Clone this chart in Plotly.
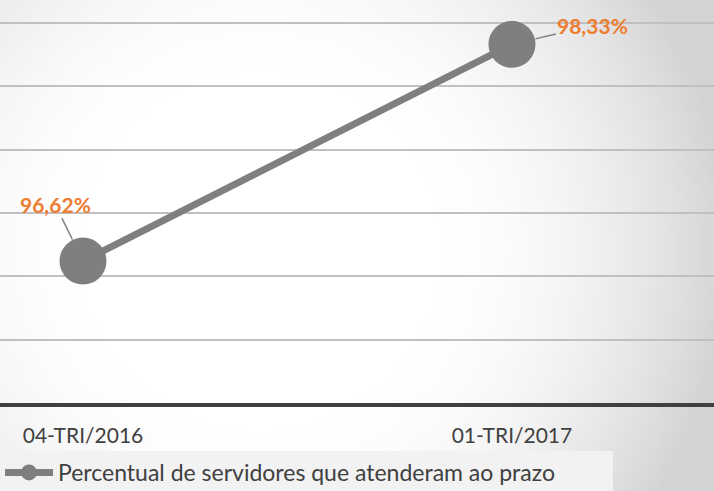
import base64
import struct
import zlib

import plotly.graph_objects as go

# data
quarters = ["04-TRI/2016", "01-TRI/2017"]
pct_values = [96.62, 98.33]
pct_labels = ["96,62%", "98,33%"]
series_name = "Percentual de servidores que atenderam ao prazo"

W, H = 714, 491
PLOT_BOTTOM = 88


def gradient_png(w, h, cx, cy, r0, r1, darkest):
    # small grayscale radial gradient, stretched by the browser
    rows = []
    for j in range(h):
        row = bytearray([0])
        for i in range(w):
            px = (i + 0.5) * W / w
            py = (j + 0.5) * H / h
            d = ((px - cx) ** 2 + (py - cy) ** 2) ** 0.5
            t = min(max((d - r0) / (r1 - r0), 0.0), 1.0)
            row.append(int(round(255 - (255 - darkest) * t * t)))
        rows.append(bytes(row))
    raw = b"".join(rows)

    def chunk(tag, data):
        c = struct.pack(">I", len(data)) + tag + data
        return c + struct.pack(">I", zlib.crc32(tag + data) & 0xFFFFFFFF)

    png = b"\x89PNG\r\n\x1a\n"
    png += chunk(b"IHDR", struct.pack(">IIBBBBB", w, h, 8, 0, 0, 0, 0))
    png += chunk(b"IDAT", zlib.compress(raw, 9))
    png += chunk(b"IEND", b"")
    return "data:image/png;base64," + base64.b64encode(png).decode()


bg = gradient_png(143, 98, 260, 250, 150, 470, 211)

fig = go.Figure()
fig.add_trace(
    go.Scatter(
        x=quarters,
        y=pct_values,
        mode="lines+markers",
        name=series_name,
        line=dict(color="#7f7f7f", width=7),
        marker=dict(color="#7f7f7f", size=47),
        hoverinfo="skip",
    )
)

# data labels with leader lines
offsets = [(-28, -57), (81, -19)]
for q, v, lab, (ax, ay) in zip(quarters, pct_values, pct_labels, offsets):
    fig.add_annotation(
        x=q,
        y=v,
        text="<b>" + lab + "</b>",
        showarrow=True,
        arrowhead=0,
        arrowwidth=1.5,
        arrowcolor="#7f7f7f",
        standoff=24,
        ax=ax,
        ay=ay,
        font=dict(family="Lato, Open Sans, sans-serif", size=21, color="#ed7d31"),
    )

fig.add_layout_image(
    source=bg,
    xref="paper",
    yref="paper",
    x=0,
    y=1,
    sizex=1,
    sizey=H / (H - PLOT_BOTTOM),
    sizing="stretch",
    xanchor="left",
    yanchor="top",
    layer="below",
)

fig.update_layout(
    width=W,
    height=H,
    margin=dict(l=0, r=0, t=0, b=PLOT_BOTTOM, autoexpand=False),
    paper_bgcolor="#eeeeee",
    plot_bgcolor="rgba(0,0,0,0)",
    font=dict(family="Lato, Open Sans, sans-serif", size=21, color="#404040"),
    showlegend=True,
    legend=dict(
        orientation="h",
        x=0,
        y=-(451 - (H - PLOT_BOTTOM)) / (H - PLOT_BOTTOM),
        xanchor="left",
        yanchor="top",
        bgcolor="#f2f2f2",
        itemwidth=48,
        entrywidth=550,
        entrywidthmode="pixels",
        font=dict(size=23, color="#404040"),
    ),
    xaxis=dict(
        type="category",
        range=[-0.1935, 1.471],
        showgrid=False,
        showline=True,
        linecolor="#404040",
        linewidth=4,
        ticks="",
        ticklabelstandoff=11,
        tickfont=dict(size=21, color="#404040"),
    ),
    yaxis=dict(
        range=[95.5, 98.68],
        dtick=0.5,
        showgrid=True,
        gridcolor="#c0c0c0",
        gridwidth=1.5,
        showticklabels=False,
        zeroline=False,
        showline=False,
    ),
)

fig.write_html(
    "out.html",
    config={"displayModeBar": False},
    post_script="document.body.style.margin = '0';",
)
